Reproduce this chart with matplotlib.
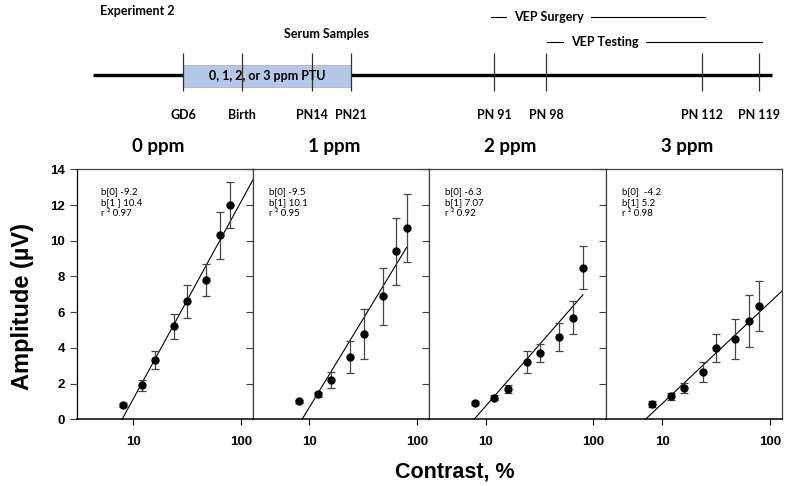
import numpy as np
import matplotlib.pyplot as plt
from matplotlib.patches import Rectangle
from matplotlib.ticker import FixedLocator, NullLocator

# contrast levels (%) shared by all panels
contrast = [8, 12, 16, 24, 32, 48, 64, 80]
doses = ["0 ppm", "1 ppm", "2 ppm", "3 ppm"]

amp_0 = [0.8, 1.9, 3.3, 5.2, 6.6, 7.8, 10.3, 12.0]
err_0 = [0.1, 0.3, 0.5, 0.7, 0.9, 0.9, 1.3, 1.3]
amp_1 = [1.0, 1.4, 2.2, 3.5, 4.8, 6.9, 9.4, 10.7]
err_1 = [0.1, 0.15, 0.45, 0.9, 1.4, 1.6, 1.9, 1.9]
amp_2 = [0.9, 1.2, 1.7, 3.2, 3.7, 4.6, 5.7, 8.5]
err_2 = [0.1, 0.14, 0.2, 0.6, 0.5, 0.8, 0.9, 1.2]
amp_3 = [0.85, 1.3, 1.75, 2.65, 4.0, 4.5, 5.5, 6.35]
err_3 = [0.15, 0.2, 0.3, 0.55, 0.8, 1.1, 1.45, 1.4]

# regression lines as drawn (amp = b0 + b1*log10(contrast)), and their x extent
line_b0 = [-9.92, -9.25, -6.16, -4.80]
line_b1 = [11.04, 9.92, 6.90, 5.67]
line_x = [(7.9, 135), (8.57, 80), (7.8, 80), (7.0, 130)]

fit_text = [
    ["b[0] -9.2", "b[1 ] 10.4", "r \u00b2 0.97"],
    ["b[0] -9.5", "b[1] 10.1", "r \u00b2 0.95"],
    ["b[0] -6.3", "b[1] 7.07", "r \u00b2 0.92"],
    ["b[0]  -4.2", "b[1] 5.2", "r \u00b2 0.98"],
]
text_x = [0.14, 0.09, 0.09, 0.09]

# timeline (schematic units 0..800 across the figure)
tl_labels = ["GD6", "Birth", "PN14", "PN21", "PN 91", "PN 98", "PN 112", "PN 119"]
tl_pos = [183, 242, 312, 351, 494, 546, 702, 759]
tl_span = (93, 772)
ptu_span = (183, 351)
vep_names = ["VEP Surgery", "VEP Testing"]
vep_start = [491, 547]
vep_end = [705, 762]
vep_text_x = [549, 605]
vep_y = [17, 42]

amps = [amp_0, amp_1, amp_2, amp_3]
errs = [err_0, err_1, err_2, err_3]

W, H = 800, 486
fig = plt.figure(figsize=(W / 100, H / 100), dpi=100)
axes = fig.subplots(1, 4, sharey=True, gridspec_kw=dict(wspace=0))
fig.subplots_adjust(left=76.7 / W, right=782 / W, bottom=1 - 419.3 / H, top=1 - 169.3 / H)

tick_font = dict(family="Liberation Sans", weight="bold", size=9.5)
note_font = dict(family=["Lato", "DejaVu Sans"], size=7)

for i, ax in enumerate(axes):
    ax.set_xscale("log")
    ax.set_xlim(3, 130)
    ax.set_ylim(0, 14)
    ax.errorbar(contrast, amps[i], yerr=errs[i], fmt="o", color="black", ms=5,
                ecolor="#444444", elinewidth=0.9, capsize=2.8, capthick=0.9, zorder=3)
    xs = np.geomspace(line_x[i][0], line_x[i][1], 50)
    ax.plot(xs, line_b0[i] + line_b1[i] * np.log10(xs), color="black", lw=0.8,
            clip_on=False, zorder=2)
    for k, t in enumerate(fit_text[i]):
        ax.text(text_x[i], 0.91 - k * 0.044, t, transform=ax.transAxes,
                ha="left", va="center", **note_font)
    ax.text(0.46, 1.09, doses[i], transform=ax.transAxes, ha="center", va="center",
            family=["Lato", "DejaVu Sans"], weight="bold", size=13.5)
    ax.xaxis.set_major_locator(FixedLocator([10, 100]))
    ax.xaxis.set_minor_locator(NullLocator())
    ax.set_xticklabels(["10", "100"], **tick_font)
    ax.set_yticks(range(0, 15, 2))
    ax.tick_params(axis="x", direction="out", length=4, width=0.8, pad=8)
    ax.tick_params(axis="y", direction="out", length=5, width=0.8, colors="#404040",
                   labelcolor="black")
    for s in ax.spines.values():
        s.set_color("#404040")
        s.set_linewidth(0.9)
    ax.spines["bottom"].set_color("black")
    ax.spines["bottom"].set_linewidth(1.1)

axes[0].set_yticklabels([str(v) for v in range(0, 15, 2)], **tick_font)
axes[0].spines["left"].set_color("black")

fig.text(23 / W, 1 - 307 / H, "Amplitude (\u00b5V)", rotation=90, ha="center", va="center",
         family="Liberation Sans", weight="bold", size=17)
fig.text(455 / W, 1 - 472 / H, "Contrast, %", ha="center", va="center",
         family="Liberation Sans", weight="bold", size=15.5)

# timeline in a figure-wide axes
tl = fig.add_axes([0, 0, 1, 1], zorder=-1)
tl.set_xlim(0, W)
tl.set_ylim(H, 0)
tl.axis("off")
tl_font = dict(family=["Lato", "DejaVu Sans"], weight="bold", size=9)

tl.plot(tl_span, [75.5, 75.5], color="black", lw=2.4, solid_capstyle="butt", zorder=1)
tl.add_patch(Rectangle((ptu_span[0], 65), ptu_span[1] - ptu_span[0], 22,
                       fc="#b4c7e7", ec="#9fb4d8", lw=0.6, zorder=2))
tl.text(sum(ptu_span) / 2, 76, "0, 1, 2, or 3 ppm PTU", ha="center", va="center",
        zorder=4, **tl_font)
tl.vlines(tl_pos, 53, 91, color="#333333", lw=0.9, zorder=3)
for p, lab in zip(tl_pos, tl_labels):
    tl.text(p, 115, lab, ha="center", va="center", **tl_font)

for name, x0, x1, xt, y in zip(vep_names, vep_start, vep_end, vep_text_x, vep_y):
    tl.plot([x0, x1], [y, y], color="black", lw=0.8, zorder=1)
    tl.text(xt, y, name, ha="center", va="center", zorder=2,
            bbox=dict(fc="white", ec="none", pad=5), **tl_font)

tl.text(100, 11, "Experiment 2", ha="left", va="center", **tl_font)
tl.text(327, 34, "Serum Samples", ha="center", va="center", **tl_font)

fig.savefig("out.png", dpi=100)
